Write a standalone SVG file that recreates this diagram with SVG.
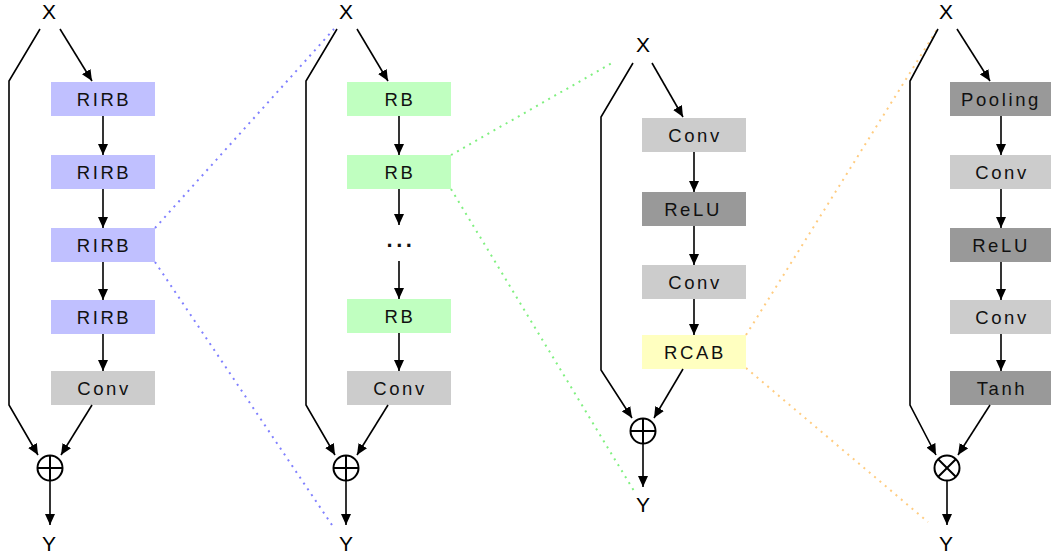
<svg xmlns="http://www.w3.org/2000/svg" width="1051" height="558" viewBox="0 0 1051 558">
  <style>
    .lbl { font-family: "Liberation Sans", Arial, sans-serif; font-size: 18.5px; letter-spacing: 2.6px; text-anchor: middle; fill: #111; }
    .io { font-family: "Liberation Sans", Arial, sans-serif; font-size: 21px; text-anchor: middle; fill: #000; }
    .ln { fill: none; stroke: #000; stroke-width: 1.6; }
    .arr { fill: none; stroke: #000; stroke-width: 1.6; marker-end: url(#ah); }
    .op { fill: #fff; stroke: #000; stroke-width: 2; }
    .opx { stroke: #000; stroke-width: 2; }
    .rirb { fill: #c0c0ff; }
    .rb { fill: #c0ffc0; }
    .conv { fill: #cccccc; }
    .dark { fill: #999999; }
    .rcab { fill: #ffffc0; }
    .dot { fill: none; stroke-width: 2; stroke-dasharray: 2 5; }
  </style>
  <defs>
    <marker id="ah" markerUnits="userSpaceOnUse" markerWidth="12" markerHeight="10" refX="11" refY="5" orient="auto">
      <path d="M0,0 L11,5 L0,10 Z" fill="#000"/>
    </marker>
  </defs>

  <!-- zoom guide lines between panels -->
  <g id="guides">
    <path class="dot" stroke="#8080ff" d="M155,228 L334,29"/>
    <path class="dot" stroke="#8080ff" d="M155,262 L334,528"/>
    <path class="dot" stroke="#80f080" d="M451,155 L612,63"/>
    <path class="dot" stroke="#80f080" d="M451,189 L634,491"/>
    <path class="dot" stroke="#ffcc80" d="M746,335 L938,28"/>
    <path class="dot" stroke="#ffcc80" d="M746,368 L928,522"/>
  </g>

  <!-- panel 1: residual-in-residual chain -->
  <g id="p1-x"><text class="io" x="49" y="19">X</text></g>
  <g id="p1-rirb1"><rect class="rirb" x="51" y="82" width="104" height="34"/><text class="lbl" x="104" y="105.5">RIRB</text></g>
  <g id="p1-rirb2"><rect class="rirb" x="51" y="155" width="104" height="34"/><text class="lbl" x="104" y="178.5">RIRB</text></g>
  <g id="p1-rirb3"><rect class="rirb" x="51" y="228" width="104" height="34"/><text class="lbl" x="104" y="251.5">RIRB</text></g>
  <g id="p1-rirb4"><rect class="rirb" x="51" y="300" width="104" height="34"/><text class="lbl" x="104" y="323.5">RIRB</text></g>
  <g id="p1-conv"><rect class="conv" x="51" y="371" width="104" height="34"/><text class="lbl" x="104" y="394.5">Conv</text></g>
  <g id="p1-add"><circle class="op" cx="50" cy="468" r="12.5"/><path class="opx" d="M37.5,468 H62.5 M50,455.5 V480.5"/></g>
  <g id="p1-y"><text class="io" x="49" y="551">Y</text></g>

  <!-- panel 2: residual block chain -->
  <g id="p2-x"><text class="io" x="346" y="19">X</text></g>
  <g id="p2-rb1"><rect class="rb" x="347" y="82" width="104" height="34"/><text class="lbl" x="400" y="105.5">RB</text></g>
  <g id="p2-rb2"><rect class="rb" x="347" y="155" width="104" height="34"/><text class="lbl" x="400" y="178.5">RB</text></g>
  <g id="p2-dots"><text class="lbl" x="401" y="247" style="font-weight:bold;font-size:22px;letter-spacing:3.5px">...</text></g>
  <g id="p2-rb3"><rect class="rb" x="347" y="299" width="104" height="34"/><text class="lbl" x="400" y="322.5">RB</text></g>
  <g id="p2-conv"><rect class="conv" x="347" y="371" width="104" height="34"/><text class="lbl" x="400" y="394.5">Conv</text></g>
  <g id="p2-add"><circle class="op" cx="346" cy="468" r="12.5"/><path class="opx" d="M333.5,468 H358.5 M346,455.5 V480.5"/></g>
  <g id="p2-y"><text class="io" x="346" y="551">Y</text></g>

  <!-- panel 3: residual channel attention block -->
  <g id="p3-x"><text class="io" x="643" y="52">X</text></g>
  <g id="p3-conv1"><rect class="conv" x="642" y="118" width="104" height="34"/><text class="lbl" x="695" y="141.5">Conv</text></g>
  <g id="p3-relu"><rect class="dark" x="642" y="192" width="104" height="34"/><text class="lbl" x="693" y="215.5">ReLU</text></g>
  <g id="p3-conv2"><rect class="conv" x="642" y="265" width="104" height="34"/><text class="lbl" x="695" y="288.5">Conv</text></g>
  <g id="p3-rcab"><rect class="rcab" x="642" y="335" width="104" height="34"/><text class="lbl" x="695" y="358.5">RCAB</text></g>
  <g id="p3-add"><circle class="op" cx="643" cy="431" r="12.5"/><path class="opx" d="M630.5,431 H655.5 M643,418.5 V443.5"/></g>
  <g id="p3-y"><text class="io" x="643" y="512">Y</text></g>

  <!-- panel 4: attention gate -->
  <g id="p4-x"><text class="io" x="946" y="19">X</text></g>
  <g id="p4-pool"><rect class="dark" x="950" y="82" width="104" height="34"/><text class="lbl" x="1001" y="105.5">Pooling</text></g>
  <g id="p4-conv1"><rect class="conv" x="950" y="155" width="104" height="34"/><text class="lbl" x="1002" y="178.5">Conv</text></g>
  <g id="p4-relu"><rect class="dark" x="950" y="228" width="104" height="34"/><text class="lbl" x="1001" y="251.5">ReLU</text></g>
  <g id="p4-conv2"><rect class="conv" x="950" y="300" width="104" height="34"/><text class="lbl" x="1002" y="323.5">Conv</text></g>
  <g id="p4-tanh"><rect class="dark" x="950" y="371" width="104" height="34"/><text class="lbl" x="1002" y="394.5">Tanh</text></g>
  <g id="p4-mul"><circle class="op" cx="947" cy="468" r="12.5"/><path class="opx" d="M938.2,459.2 L955.8,476.8 M955.8,459.2 L938.2,476.8"/></g>
  <g id="p4-y"><text class="io" x="946" y="551">Y</text></g>

  <!-- connectors -->
  <g id="connectors">
    <!-- panel 1 -->
    <path class="ln" d="M40,29 L9,81 V405 L38,455" marker-end="url(#ah)"/>
    <path class="arr" d="M60,29 L92,81"/>
    <path class="arr" d="M103,116 V155"/>
    <path class="arr" d="M103,189 V228"/>
    <path class="arr" d="M103,262 V300"/>
    <path class="arr" d="M103,334 V371"/>
    <path class="arr" d="M92,405 L61,455"/>
    <path class="arr" d="M50,481 V525"/>
    <!-- panel 2 -->
    <path class="ln" d="M337,29 L306,81 V405 L335,455" marker-end="url(#ah)"/>
    <path class="arr" d="M357,29 L388,81"/>
    <path class="arr" d="M399,116 V155"/>
    <path class="arr" d="M399,189 V225"/>
    <path class="arr" d="M399,261 V299"/>
    <path class="arr" d="M399,333 V371"/>
    <path class="arr" d="M388,405 L357,455"/>
    <path class="arr" d="M346,481 V525"/>
    <!-- panel 3 -->
    <path class="ln" d="M633,63 L601,117 V370 L632,418" marker-end="url(#ah)"/>
    <path class="arr" d="M652,63 L683,117"/>
    <path class="arr" d="M694,152 V192"/>
    <path class="arr" d="M694,226 V265"/>
    <path class="arr" d="M694,299 V335"/>
    <path class="arr" d="M683,369 L654,418"/>
    <path class="arr" d="M643,444 V487"/>
    <!-- panel 4 -->
    <path class="ln" d="M938,29 L910,81 V405 L936,455" marker-end="url(#ah)"/>
    <path class="arr" d="M957,29 L990,81"/>
    <path class="arr" d="M1001,116 V155"/>
    <path class="arr" d="M1001,189 V228"/>
    <path class="arr" d="M1001,262 V300"/>
    <path class="arr" d="M1001,334 V371"/>
    <path class="arr" d="M990,405 L958,455"/>
    <path class="arr" d="M947,481 V525"/>
  </g>
</svg>
